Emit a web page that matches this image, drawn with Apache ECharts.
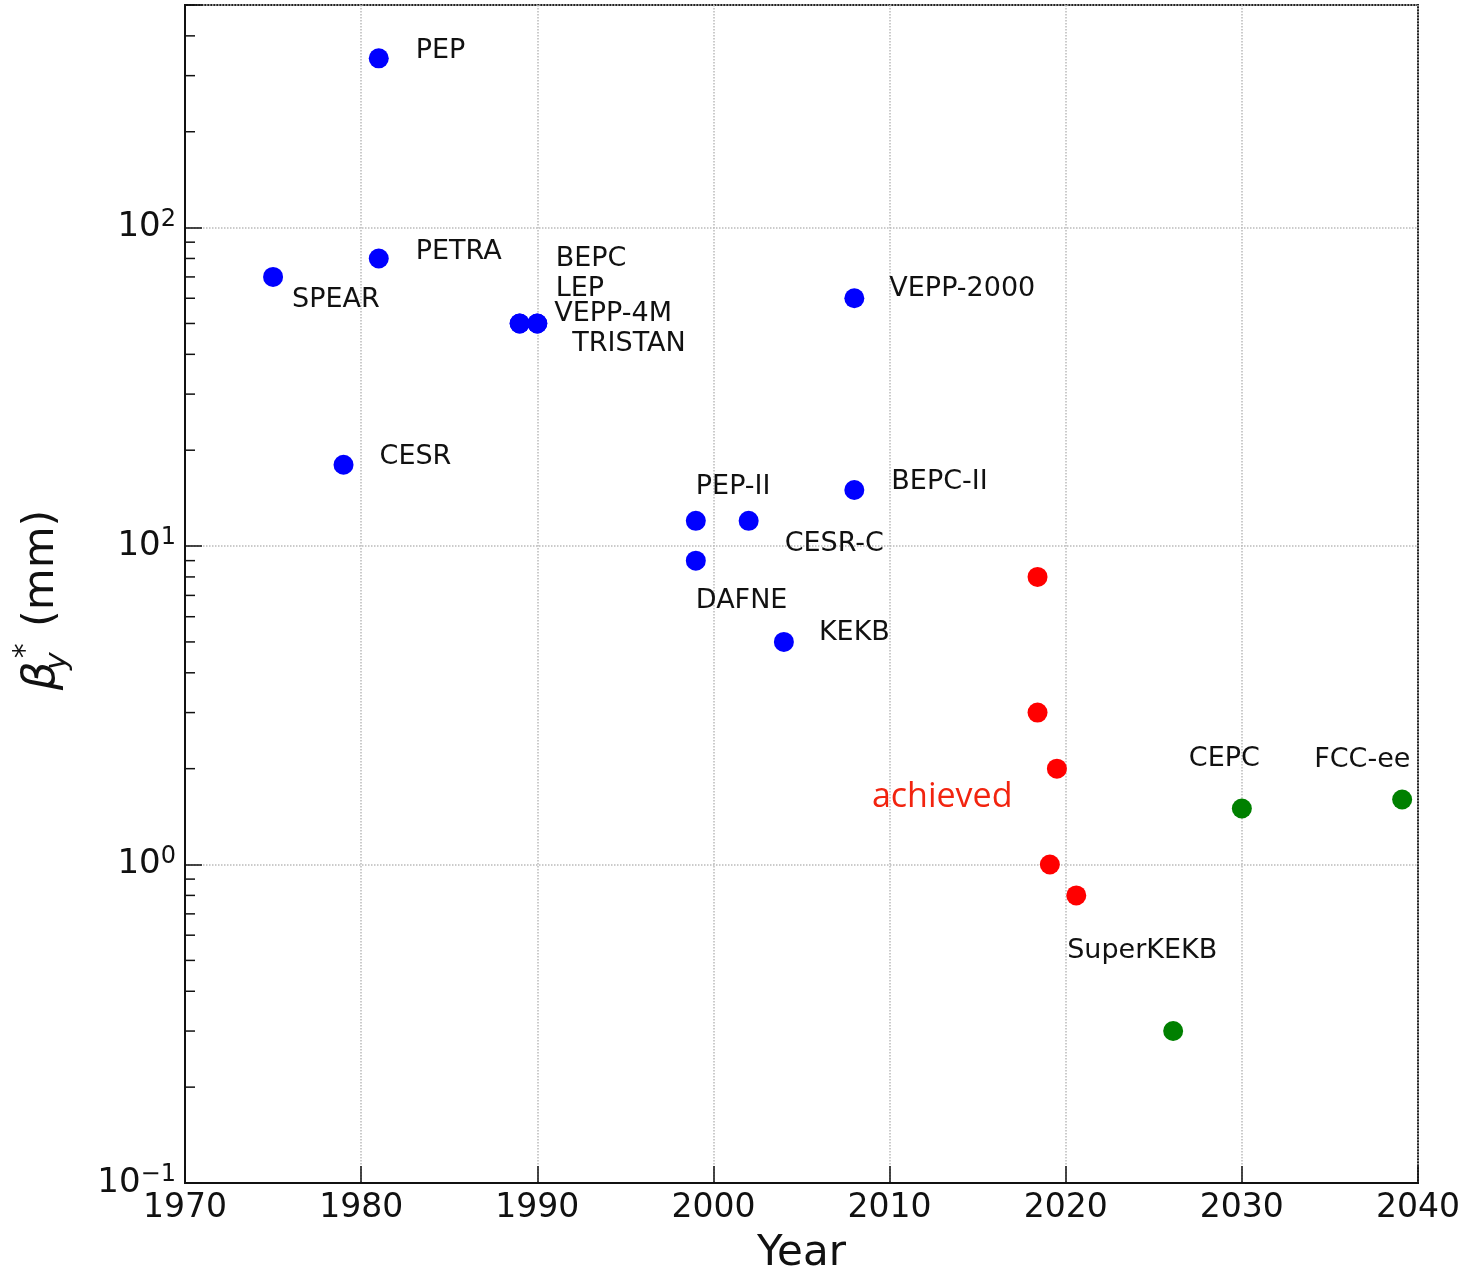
<!DOCTYPE html>
<html>
<head>
<meta charset="utf-8">
<script src="https://cdn.jsdelivr.net/npm/echarts@6/dist/echarts.min.js"></script>
<style>html,body{margin:0;padding:0;background:#fff}#c{width:1471px;height:1272px}</style>
</head>
<body>
<div id="c"></div>
<script>
// ---- data ----
const pastNames = ['SPEAR','CESR','PEP','PETRA','BEPC','LEP','VEPP-4M','TRISTAN','PEP-II','DAFNE','CESR-C','KEKB','VEPP-2000','BEPC-II'];
const pastYears = [1975, 1979, 1981, 1981, 1989, 1989, 1990, 1990, 1999, 1999, 2002, 2004, 2008, 2008];
const pastBeta  = [70, 18, 340, 80, 50, 50, 50, 50, 12, 9, 12, 5, 60, 15];

const achievedYears = [2018.4, 2018.4, 2019.5, 2019.1, 2020.6];
const achievedBeta  = [8, 3, 2, 1, 0.8];
const achievedLabel = 'achieved';

const futureNames = ['SuperKEKB','CEPC','FCC-ee'];
const futureYears = [2026.1, 2030, 2039.1];
const futureBeta  = [0.3, 1.5, 1.6];

const xTicks = [1970, 1980, 1990, 2000, 2010, 2020, 2030, 2040];
const yDecades = [-1, 0, 1, 2];

// ---- styling (label placement relative to points, px) ----
const FONT = 'DejaVu Sans';
const labelOffset = {
  'SPEAR':[19,23], 'CESR':[36,-8], 'PEP':[37,-7], 'PETRA':[37,-6],
  'BEPC':[36,-64], 'LEP':[36,-34], 'VEPP-4M':[17,-9], 'TRISTAN':[35,21],
  'PEP-II':[0,-34], 'DAFNE':[0,40], 'CESR-C':[36,23], 'KEKB':[35,-9],
  'VEPP-2000':[35,-9], 'BEPC-II':[37,-8],
  'SuperKEKB':[-106,-80], 'CEPC':[-53,-49], 'FCC-ee':[-88,-40]
};
const achievedLabelIndex = 2;
const achievedOffset = [-185, 29];

function lbl(text, off, color, size, family) {
  return {
    show: true, position: 'inside', formatter: text, offset: off,
    align: 'left', verticalAlign: 'middle',
    color: color || '#111', fontSize: size || 27, fontFamily: family || FONT
  };
}

const pastData = pastNames.map((n, i) => ({
  value: [pastYears[i], pastBeta[i]], label: lbl(n, labelOffset[n])
}));
const achievedData = achievedYears.map((y, i) => {
  const d = { value: [y, achievedBeta[i]] };
  if (i === achievedLabelIndex) d.label = lbl(achievedLabel, achievedOffset, '#f2240f', 34, 'Open Sans');
  return d;
});
const futureData = futureNames.map((n, i) => ({
  value: [futureYears[i], futureBeta[i]], label: lbl(n, labelOffset[n])
}));

const minorTicks = [];
yDecades.forEach(d => { for (let k = 2; k <= 9; k++) { const v = k * Math.pow(10, d); if (v <= 500) minorTicks.push([1970, v]); } });

const chart = echarts.init(document.getElementById('c'), null, { renderer: 'canvas' });
chart.setOption({
  animation: false,
  backgroundColor: '#fff',
  grid: { left: 185, right: 53, top: 5, bottom: 89, show: true, borderColor: '#222', borderWidth: 2,
    containLabel: false, outerBoundsMode: 'none' },
  xAxis: {
    type: 'value', min: 1970, max: 2040, interval: 10,
    name: 'Year', nameLocation: 'middle', nameGap: 50,
    nameTextStyle: { fontSize: 42, fontFamily: FONT, color: '#111' },
    axisLine: { show: true, onZero: false, lineStyle: { color: '#111', width: 2 } },
    axisTick: { show: true, inside: true, length: 17, lineStyle: { color: '#111', width: 1.5 } },
    axisLabel: { fontSize: 33, fontFamily: FONT, color: '#111', margin: 9,
      formatter: v => xTicks.indexOf(v) >= 0 ? String(v) : '' },
    splitLine: { show: true, lineStyle: { color: '#bbb', type: 'dotted', width: 1.5 } }
  },
  yAxis: {
    type: 'log', logBase: 10, min: 0.1, max: 500,
    name: '{g|β}{sub|y}{sup|*}{t| (mm)}', nameLocation: 'middle', nameGap: 112, nameRotate: 90,
    nameTextStyle: {
      fontSize: 43, fontFamily: FONT, color: '#111', padding: [0, 12, 0, 0],
      rich: {
        g: { fontSize: 45, fontFamily: FONT, fontStyle: 'italic', color: '#111', lineHeight: 62 },
        sub: { fontSize: 30, fontFamily: FONT, fontStyle: 'italic', color: '#111', width: 1, align: 'left', verticalAlign: 'bottom', lineHeight: 30 },
        sup: { fontSize: 30, fontFamily: FONT, color: '#111', width: 20, verticalAlign: 'top', lineHeight: 30 },
        t: { fontSize: 43, fontFamily: FONT, color: '#111', lineHeight: 62 }
      }
    },
    axisLine: { show: true, lineStyle: { color: '#111', width: 2 } },
    axisTick: { show: true, inside: true, length: 17, lineStyle: { color: '#111', width: 1.5 } },
    axisLabel: {
      margin: 9, color: '#111', fontFamily: FONT,
      formatter: v => {
        const l = Math.log10(v), e = Math.round(l);
        if (Math.abs(l - e) > 1e-6 || yDecades.indexOf(e) < 0) return '';
        return '{b|10}{s|' + (e < 0 ? '\u2212' + (-e) : e) + '}';
      },
      rich: {
        b: { fontSize: 34, fontFamily: FONT, color: '#111', lineHeight: 40 },
        s: { fontSize: 24, fontFamily: FONT, color: '#111', verticalAlign: 'top', lineHeight: 22 }
      }
    },
    splitLine: { show: true, lineStyle: { color: '#bbb', type: 'dotted', width: 1.5 } }
  },
  series: [
    {
      type: 'custom', silent: true, clip: false, z: 3,
      data: minorTicks,
      renderItem: (params, api) => {
        const p = api.coord([api.value(0), api.value(1)]);
        return { type: 'line', shape: { x1: p[0], y1: p[1], x2: p[0] + 10, y2: p[1] },
          style: { stroke: '#111', lineWidth: 1.5 } };
      }
    },
    { type: 'scatter', symbolSize: 20, itemStyle: { color: '#0000ff', opacity: 1 }, data: pastData, z: 5 },
    { type: 'scatter', symbolSize: 20, itemStyle: { color: '#ff0000', opacity: 1 }, data: achievedData, z: 5 },
    { type: 'scatter', symbolSize: 20, itemStyle: { color: '#008000', opacity: 1 }, data: futureData, z: 5 }
  ]
});
</script>
</body>
</html>
